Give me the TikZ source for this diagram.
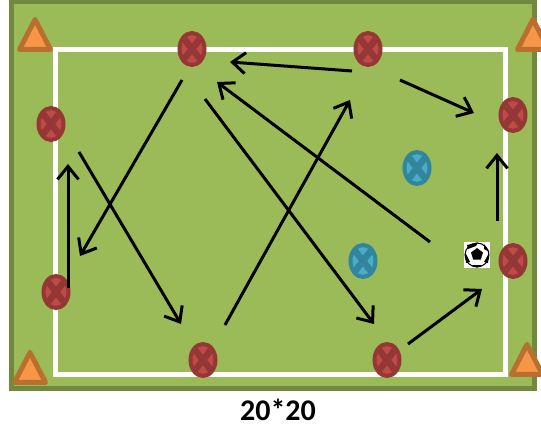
\documentclass[tikz,border=0pt]{standalone}
\usepackage{fontspec}
\setmainfont{Carlito}
\usetikzlibrary{arrows.meta,shapes.geometric}

\begin{document}
\begin{tikzpicture}[
    x=1pt, y=-1pt,
    player/.style = {ellipse, minimum width=25pt, minimum height=32pt, inner sep=0pt,
line width=4pt, path picture={
  \draw[line width=6.5pt, draw=#1] (path picture bounding box.north west) -- (path picture bounding box.south east);
  \draw[line width=6.5pt, draw=#1] (path picture bounding box.north east) -- (path picture bounding box.south west);
}},
red/.style = {player=redline, draw=redline, fill=redfill},
blue/.style = {player=blueline, draw=blueline, fill=bluefill},
cone/.style = {isosceles triangle, isosceles triangle stretches, shape border rotate=90,
minimum width=31pt, minimum height=30pt, inner sep=0pt, anchor=center,
draw=coneline, fill=conefill, line width=5pt, line join=round},
run/.style = {-{Straight Barb[length=13pt,width=21pt,line width=3pt]}, line width=3pt, black}
]
  \definecolor{grass}{HTML}{9BBB59}
  \definecolor{grassline}{HTML}{71893F}
  \definecolor{redfill}{HTML}{BE4B48}
  \definecolor{redline}{HTML}{953735}
  \definecolor{bluefill}{HTML}{4BACC6}
  \definecolor{blueline}{HTML}{31859C}
  \definecolor{conefill}{HTML}{F79646}
  \definecolor{coneline}{HTML}{B9702F}

  \useasboundingbox (0,0) rectangle (541,429);

  % field
  \draw[draw=grassline, fill=grass, line width=5pt] (11,1.5) rectangle (534.5,388.5);
  \draw[draw=white, line width=5pt] (55.5,49.5) rectangle (505.5,374.5);

  % cones
  \node (coneA) [cone] at (35,40) {};
  \node (coneB) [cone] at (533,40) {};
  \node (coneC) [cone] at (30,373) {};
  \node (coneD) [cone] at (527,365) {};

  % players
  \node (redA) [red] at (192,49) {};
  \node (redB) [red] at (368,49) {};
  \node (redC) [red] at (513,115) {};
  \node (redD) [red] at (513,261) {};
  \node (redE) [red] at (387,360) {};
  \node (redF) [red] at (203,360) {};
  \node (redG) [red] at (56,292) {};
  \node (redH) [red] at (51,124) {};
  \node (blueA) [blue] at (417,168) {};
  \node (blueB) [blue] at (363,261) {};

  % ball
  \node (ball) [fill=white, minimum size=26pt, inner sep=0pt] at (477,255) {};
  \draw[line width=1pt, fill=white] (ball.center) circle (12pt);
  \fill[black] (477,248) -- ++(6,4.5) -- ++(-2.2,7) -- ++(-7.6,0) -- ++(-2.2,-7) -- cycle;
  \fill[black] (467,245) -- (478,242.5) -- (476,246) -- (468,249) -- cycle;
  \fill[black] (484,244) -- (489.5,252) -- (484,249) -- cycle;
  \fill[black] (465,252) -- (470,262) -- (466,263) -- cycle;
  \fill[black] (489,253) -- (488,263) -- (484,262) -- cycle;
  \fill[black] (471,265) -- (483,265) -- (477,267.5) -- cycle;

  % arrow ends
  \coordinate (aS) at (352,71);   \coordinate (aE) at (230,62);
  \coordinate (bS) at (400,80);   \coordinate (bE) at (474,113);
  \coordinate (cS) at (497,221);  \coordinate (cE) at (497,153);
  \coordinate (dS) at (408,344);  \coordinate (dE) at (482,289);
  \coordinate (eS) at (430,242);  \coordinate (eE) at (217,82);
  \coordinate (fS) at (225,325);  \coordinate (fE) at (350,100);
  \coordinate (gS) at (205,99);   \coordinate (gE) at (374,324);
  \coordinate (hS) at (182,80);   \coordinate (hE) at (80,256);
  \coordinate (iS) at (79,152);   \coordinate (iE) at (181,324);
  \coordinate (jS) at (68,288);   \coordinate (jE) at (68,164);

  \foreach \n in {a,b,c,d,e,f,g,h,i,j}
    \draw[run] (\n S) -- (\n E);

  \node (size) [font=\bfseries, inner sep=0pt] at (278,410) {\fontsize{30pt}{30pt}\selectfont 20*20};

\end{tikzpicture}
\end{document}
